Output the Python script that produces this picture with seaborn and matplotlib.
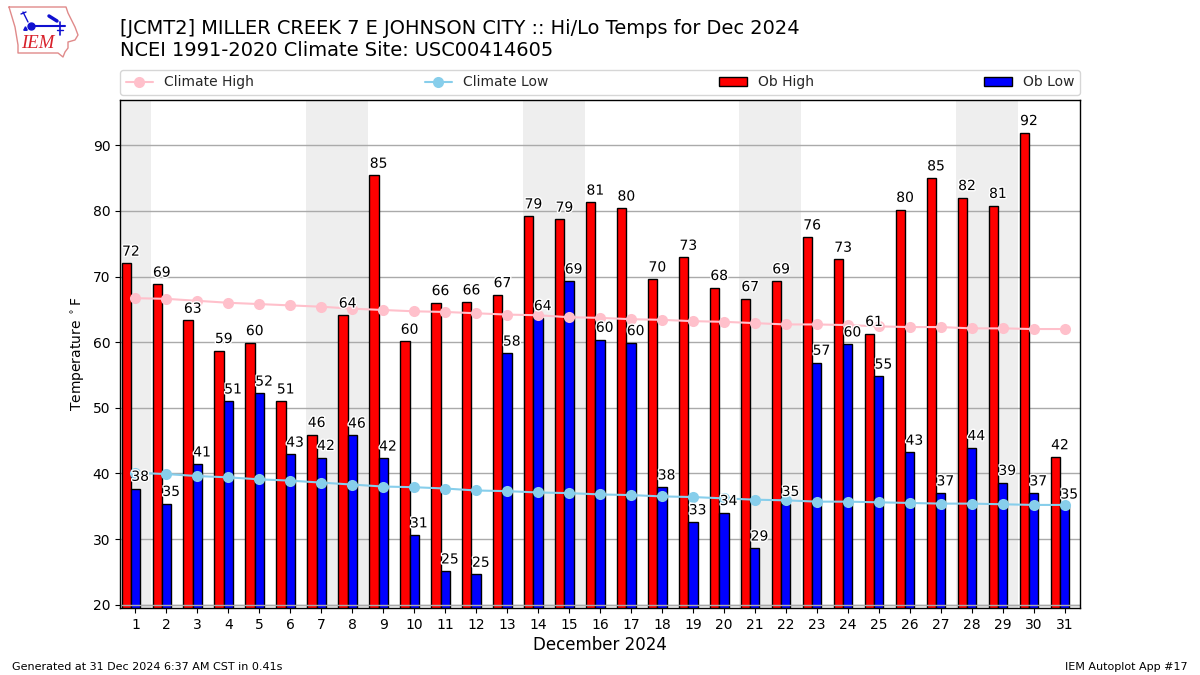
"""
Hi/Lo temps for a month with climate lines, IEM autoplot look
"""

import numpy as np
import matplotlib
matplotlib.use("Agg")
import matplotlib.pyplot as plt
import matplotlib.patheffects as pe
import seaborn as sns

# -----------------------------
# DATA
# -----------------------------
days = np.arange(1, 32)

ob_high = [72.0, 68.8, 63.3, 58.7, 59.9, 51.0, 45.9, 64.1, 85.4, 60.1, 66.0,
           66.1, 67.2, 79.2, 78.7, 81.3, 80.4, 69.6, 72.9, 68.3, 66.6, 69.3,
           76.0, 72.6, 61.3, 80.2, 85.0, 82.0, 80.8, 91.9, 42.5]
ob_low = [37.7, 35.4, 41.4, 51.0, 52.2, 42.9, 42.4, 45.8, 42.3, 30.6, 25.1,
          24.6, 58.3, 63.7, 69.3, 60.4, 59.9, 37.9, 32.6, 34.0, 28.6, 35.4,
          56.9, 59.7, 54.8, 43.2, 37.0, 43.9, 38.6, 37.0, 35.0]
climate_high = [66.7, 66.6, 66.3, 66.0, 65.8, 65.6, 65.4, 65.1, 64.9, 64.7,
                64.6, 64.4, 64.2, 64.1, 63.8, 63.7, 63.5, 63.4, 63.2, 63.1,
                62.9, 62.7, 62.7, 62.6, 62.4, 62.3, 62.3, 62.1, 62.1, 62.0,
                62.0]
climate_low = [40.1, 39.9, 39.6, 39.4, 39.1, 38.9, 38.6, 38.3, 38.0, 37.9,
               37.7, 37.4, 37.3, 37.1, 37.0, 36.8, 36.7, 36.5, 36.4, 36.2,
               36.0, 35.9, 35.7, 35.7, 35.6, 35.5, 35.4, 35.4, 35.3, 35.2,
               35.2]
weekend_spans = [(0.5, 1.5), (6.5, 8.5), (13.5, 15.5), (20.5, 22.5), (27.5, 29.5)]

# logo outline, in reference pixels
state_x = [9, 66, 68, 75, 78, 75, 68, 68, 65, 63, 58, 18, 18, 15, 12, 9]
state_y = [7, 7, 13, 27, 35, 40, 42, 48, 52, 57, 53, 53, 45, 27, 17, 7]

TITLE = ("[JCMT2] MILLER CREEK 7 E JOHNSON CITY :: Hi/Lo Temps for Dec 2024\n"
         "NCEI 1991-2020 Climate Site: USC00414605")

# -----------------------------
# PLOT
# -----------------------------
sns.set_theme(style="white", rc={"axes.edgecolor": "black", "xtick.bottom": True,
                                 "ytick.left": True})
plt.rcParams["font.family"] = ["DejaVu Sans"]

fig = plt.figure(figsize=(12, 6.75), dpi=100)
ax = fig.add_axes([0.1, 0.0993, 0.8, 0.7526])

for start, end in weekend_spans:
    ax.axvspan(start, end, color="#eeeeee", lw=0, zorder=0)

ax.grid(True, axis="y", color="#aaaaaa", lw=1)
ax.set_axisbelow(True)

sns.barplot(x=days - 0.3, y=ob_high, native_scale=True, width=0.3, color="red",
            saturation=1, edgecolor="black", linewidth=1, label="Ob High",
            zorder=2, ax=ax)
sns.barplot(x=days.astype(float), y=ob_low, native_scale=True, width=0.3,
            color="blue", saturation=1, edgecolor="black", linewidth=1,
            label="Ob Low", zorder=2, ax=ax)
sns.lineplot(x=days, y=climate_high, color="pink", marker="o", markersize=8,
             markeredgewidth=0, lw=1.5, label="Climate High", zorder=3, ax=ax)
sns.lineplot(x=days, y=climate_low, color="skyblue", marker="o", markersize=8,
             markeredgewidth=0, lw=1.5, label="Climate Low", zorder=3, ax=ax)

# line at the 20 mark sits on top of the bars
ax.axhline(20, color="#aaaaaa", lw=1, zorder=2.5)

halo = [pe.withStroke(linewidth=2, foreground="white")]
for day, hi, lo in zip(days, ob_high, ob_low):
    ax.text(day - 0.15, hi + 0.72, f"{hi:.0f}", ha="center", va="bottom",
            fontsize=10, color="black", path_effects=halo, zorder=4)
    ax.text(day + 0.15, lo + 0.72, f"{lo:.0f}", ha="center", va="bottom",
            fontsize=10, color="black", path_effects=halo, zorder=4)

ax.set_xlim(0.5, 31.5)
ax.set_ylim(19.5, 96.9)
ax.set_xticks(days)
ax.set_xticklabels([str(d) for d in days])
ax.set_yticks(range(20, 100, 10))
ax.tick_params(axis="both", labelsize=10, length=3.5, width=0.8, color="black",
               labelcolor="black", pad=3.5)
ax.set_xlabel("December 2024", fontsize=12, color="black", labelpad=3)
ax.set_ylabel(r"Temperature $^\circ$F", fontsize=10, color="black", labelpad=4)
for spine in ax.spines.values():
    spine.set_linewidth(1)
    spine.set_color("black")

handles, labels = ax.get_legend_handles_labels()
order = [labels.index(n) for n in ["Climate High", "Climate Low", "Ob High", "Ob Low"]]
ax.legend([handles[i] for i in order], [labels[i] for i in order], ncol=4,
          mode="expand", loc="lower left", bbox_to_anchor=(0, 1.0098, 1, 0.05),
          borderaxespad=0, fontsize=10, frameon=True)

fig.text(0.1, 0.9415, TITLE, fontsize=13.95, color="black", ha="left", va="center",
         linespacing=1.2)
fig.text(0.01, 0.0125, "Generated at 31 Dec 2024 6:37 AM CST in 0.41s",
         fontsize=8, color="black", ha="left", va="center")
fig.text(0.99, 0.0125, "IEM Autoplot App #17", fontsize=8, color="black",
         ha="right", va="center")

# -----------------------------
# LOGO
# -----------------------------
logo = fig.add_axes([0.0, 1 - 65 / 675, 90 / 1200, 65 / 675])
logo.set_xlim(0, 90)
logo.set_ylim(65, 0)
logo.axis("off")
logo.plot(state_x, state_y, color="#e08a8a", lw=1)
logo.text(37.5, 44, "IEM", color="#d8202a", fontsize=13.5, style="italic",
          family="Liberation Serif", ha="center", va="center")
logo.plot([31, 65], [26, 26], color="#1010d0", lw=1.5)
logo.plot([31], [26], "o", color="#1010d0", ms=5)
logo.plot([49, 57], [16, 21], color="#1010d0", lw=2.5)
logo.plot([60, 60], [22, 35], color="#1010d0", lw=1.2)
logo.plot([57, 63], [30, 30], color="#1010d0", lw=1)
logo.plot([23, 28], [12, 22], color="#1010d0", lw=1)
logo.plot([21, 26], [14, 12], color="#1010d0", lw=1)
logo.plot([25], [28], "^", color="#1010d0", ms=2.5)

fig.savefig("out.png", dpi=100)
plt.close(fig)
